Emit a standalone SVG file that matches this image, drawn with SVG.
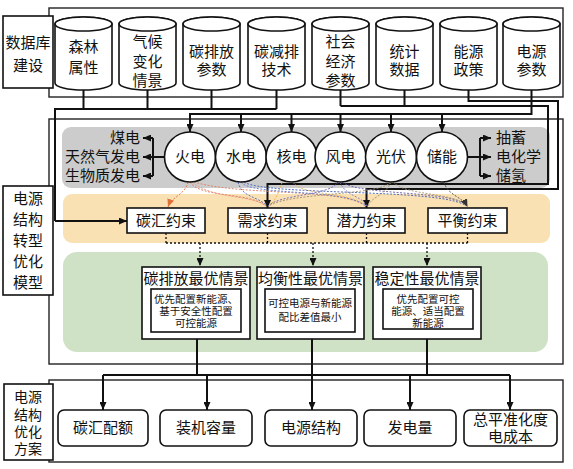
<svg xmlns="http://www.w3.org/2000/svg" width="573" height="469" viewBox="0 0 573 469">
<style>
text{font-family:"Liberation Serif","Noto Sans CJK SC",serif;fill:#111;text-anchor:middle;dominant-baseline:central}
.t15{font-size:15px}
.t14{font-size:14px}
.t11{font-size:10.5px}
.box{fill:#fff;stroke:#111;stroke-width:1.6}
.frame{fill:#fff;stroke:#222;stroke-width:1.4}
.cyl{fill:#fff;stroke:#111;stroke-width:1.6}
.ln{fill:none;stroke:#111;stroke-width:2}
.dot{fill:none;stroke:#111;stroke-width:1.3;stroke-dasharray:2 2}
.cv{fill:none;stroke-width:0.9;stroke-dasharray:2 1.5}
</style>
<defs>
<marker id="ah" viewBox="0 0 8 7" refX="8" refY="3.5" markerWidth="8" markerHeight="7" markerUnits="userSpaceOnUse" orient="auto"><path d="M0,0 L8,3.5 L0,7 z" fill="#111"/></marker>
<marker id="ahd" viewBox="0 0 8 7" refX="8" refY="3.5" markerWidth="8" markerHeight="7" markerUnits="userSpaceOnUse" orient="auto"><path d="M0,0 L8,3.5 L0,7 z" fill="#333"/></marker>
<marker id="aho" viewBox="0 0 8 7" refX="8" refY="3.5" markerWidth="8" markerHeight="7" markerUnits="userSpaceOnUse" orient="auto"><path d="M0,0 L8,3.5 L0,7 z" fill="#e0703a"/></marker>
</defs>

<!-- frames -->
<rect class="frame" x="49" y="8" width="514" height="89"/>
<rect class="frame" x="49" y="119" width="514" height="245"/>
<rect class="frame" x="49" y="380" width="514" height="82"/>

<!-- background bands -->
<rect x="62" y="127" width="488" height="61" rx="9" fill="#cccccc"/>
<rect x="63" y="194" width="487" height="49" rx="9" fill="#f9e1b4"/>
<rect x="63" y="252" width="485" height="100" rx="14" fill="#cfe2c6"/>

<!-- label boxes -->
<g id="lbl-db"><rect class="box" x="3" y="16" width="50" height="72"/>
<text class="t15" x="28" y="43">数据库</text><text class="t15" x="28" y="66">建设</text></g>
<g id="lbl-model"><rect class="box" x="3" y="186" width="50" height="109"/>
<text class="t15" x="28" y="199">电源</text><text class="t15" x="28" y="220">结构</text><text class="t15" x="28" y="241">转型</text><text class="t15" x="28" y="262">优化</text><text class="t15" x="28" y="283">模型</text></g>
<g id="lbl-plan"><rect class="box" x="4" y="384" width="49" height="76"/>
<text class="t14" x="28" y="397">电源</text><text class="t14" x="28" y="415">结构</text><text class="t14" x="28" y="432">优化</text><text class="t14" x="28" y="449">方案</text></g>

<!-- cylinders -->
<g id="db1"><path class="cyl" d="M55,24 A28.5,7 0 0 1 112,24 V83 A28.5,7 0 0 1 55,83 Z"/><ellipse class="cyl" cx="83.5" cy="24" rx="28.5" ry="7"/>
<text class="t15" x="83.5" y="47">森林</text><text class="t15" x="83.5" y="68">属性</text></g>
<g id="db2"><path class="cyl" d="M119,24 A28.5,7 0 0 1 176,24 V83 A28.5,7 0 0 1 119,83 Z"/><ellipse class="cyl" cx="147.5" cy="24" rx="28.5" ry="7"/>
<text class="t15" x="147.5" y="42">气候</text><text class="t15" x="147.5" y="62">变化</text><text class="t15" x="147.5" y="81">情景</text></g>
<g id="db3"><path class="cyl" d="M183,24 A28.5,7 0 0 1 240,24 V83 A28.5,7 0 0 1 183,83 Z"/><ellipse class="cyl" cx="211.5" cy="24" rx="28.5" ry="7"/>
<text class="t15" x="211.5" y="52">碳排放</text><text class="t15" x="211.5" y="70">参数</text></g>
<g id="db4"><path class="cyl" d="M248,24 A28.5,7 0 0 1 305,24 V83 A28.5,7 0 0 1 248,83 Z"/><ellipse class="cyl" cx="276.5" cy="24" rx="28.5" ry="7"/>
<text class="t15" x="276.5" y="52">碳减排</text><text class="t15" x="276.5" y="70">技术</text></g>
<g id="db5"><path class="cyl" d="M312,24 A28.5,7 0 0 1 369,24 V83 A28.5,7 0 0 1 312,83 Z"/><ellipse class="cyl" cx="340.5" cy="24" rx="28.5" ry="7"/>
<text class="t15" x="340.5" y="42">社会</text><text class="t15" x="340.5" y="62">经济</text><text class="t15" x="340.5" y="81">参数</text></g>
<g id="db6"><path class="cyl" d="M376,24 A28.5,7 0 0 1 433,24 V83 A28.5,7 0 0 1 376,83 Z"/><ellipse class="cyl" cx="404.5" cy="24" rx="28.5" ry="7"/>
<text class="t15" x="404.5" y="52">统计</text><text class="t15" x="404.5" y="70">数据</text></g>
<g id="db7"><path class="cyl" d="M440,24 A28.5,7 0 0 1 497,24 V83 A28.5,7 0 0 1 440,83 Z"/><ellipse class="cyl" cx="468.5" cy="24" rx="28.5" ry="7"/>
<text class="t15" x="468.5" y="52">能源</text><text class="t15" x="468.5" y="70">政策</text></g>
<g id="db8"><path class="cyl" d="M503,24 A28.5,7 0 0 1 560,24 V83 A28.5,7 0 0 1 503,83 Z"/><ellipse class="cyl" cx="531.5" cy="24" rx="28.5" ry="7"/>
<text class="t15" x="531.5" y="52">电源</text><text class="t15" x="531.5" y="70">参数</text></g>

<!-- connectors -->
<g id="connectors">
<path class="ln" d="M83.5,90 V109 M147.5,90 V109 M211.5,90 V109 M276.5,90 V109 M276.5,109 H55 V221" />
<path class="ln" d="M55,221 H127" marker-end="url(#ah)"/>
<path class="ln" d="M340.5,90 V106 M404.5,90 V106 M340.5,106 H548 V184 H267.5 V208" marker-end="url(#ah)"/>
<path class="ln" d="M468.5,90 V101 H558 V189 H366.5 V208" marker-end="url(#ah)"/>
<path class="ln" d="M531.5,90 V114 H190 V132" marker-end="url(#ah)"/>
<path class="ln" d="M241,114 V132" marker-end="url(#ah)"/>
<path class="ln" d="M291.5,114 V132" marker-end="url(#ah)"/>
<path class="ln" d="M340.5,114 V132" marker-end="url(#ah)"/>
<path class="ln" d="M391,114 V132" marker-end="url(#ah)"/>
<path class="ln" d="M442,114 V132" marker-end="url(#ah)"/>
<!-- left bracket -->
<path class="ln" d="M164,157 H153 M153,138 V176"/>
<path class="ln" d="M153,138 H143" marker-end="url(#ah)"/>
<path class="ln" d="M153,157 H143" marker-end="url(#ah)"/>
<path class="ln" d="M153,176 H143" marker-end="url(#ah)"/>
<!-- right bracket -->
<path class="ln" d="M468,157 H480 M480,138 V176"/>
<path class="ln" d="M480,138 H491" marker-end="url(#ah)"/>
<path class="ln" d="M480,157 H491" marker-end="url(#ah)"/>
<path class="ln" d="M480,176 H491" marker-end="url(#ah)"/>
<!-- colored dotted influence curves -->
<path class="cv" stroke="#e0703a" d="M188,182 C185,195 172,196 168,207" marker-end="url(#aho)"/>
<path class="cv" stroke="#e07050" d="M190,182 C200,198 250,192 266,206"/>
<path class="cv" stroke="#e89a8a" d="M192,182 C215,200 250,194 266,206"/>
<path class="cv" stroke="#d98060" d="M194,182 C240,196 345,188 365,206"/>
<path class="cv" stroke="#4a68c0" d="M238,182 C242,198 258,196 267,206"/>
<path class="cv" stroke="#5a78d0" d="M241,182 C250,196 345,188 366,206"/>
<path class="cv" stroke="#4060b0" d="M244,182 C265,196 445,188 466,206"/>
<path class="cv" stroke="#e8b040" d="M291,168 C282,170 282,196 269,206"/>
<path class="cv" stroke="#e0b060" d="M293,182 C300,196 355,192 366,206"/>
<path class="cv" stroke="#7060b0" d="M338,182 C330,196 280,194 268,206"/>
<path class="cv" stroke="#8070c0" d="M340,182 C345,196 362,196 367,206"/>
<path class="cv" stroke="#6a5aa8" d="M342,182 C360,196 455,190 467,206"/>
<path class="cv" stroke="#a09070" d="M391,182 C380,196 290,192 269,206"/>
<path class="cv" stroke="#9a8a68" d="M391,182 C385,196 372,196 368,206"/>
<path class="cv" stroke="#a89878" d="M393,182 C405,196 455,192 467,206"/>
<path class="cv" stroke="#444" d="M444,182 C448,196 462,196 467.5,207" marker-end="url(#ahd)"/>
<!-- dotted from constraints to scenarios -->
<path class="dot" d="M166,233 V243 M267.5,233 V243 M366.5,233 V243 M467.5,233 V243 M166,243 H467.5"/>
<path class="dot" d="M200,243 V266" marker-end="url(#ah)"/>
<path class="dot" d="M313,243 V266" marker-end="url(#ah)"/>
<path class="dot" d="M427,243 V266" marker-end="url(#ah)"/>
<!-- scenarios to results -->
<path class="ln" d="M197,339 V375 M427,339 V375 M103,375 H510"/>
<path class="ln" d="M103,375 V410" marker-end="url(#ah)"/>
<path class="ln" d="M207,375 V410" marker-end="url(#ah)"/>
<path class="ln" d="M312,339 V410" marker-end="url(#ah)"/>
<path class="ln" d="M410,375 V410" marker-end="url(#ah)"/>
<path class="ln" d="M510,375 V410" marker-end="url(#ah)"/>
</g>

<!-- side labels -->
<g id="gen-sub-left">
<text class="t15" x="140" y="138" style="text-anchor:end">煤电</text>
<text class="t15" x="140" y="157" style="text-anchor:end">天然气发电</text>
<text class="t15" x="140" y="176" style="text-anchor:end">生物质发电</text>
</g>
<g id="gen-sub-right">
<text class="t15" x="496" y="138" style="text-anchor:start">抽蓄</text>
<text class="t15" x="496" y="157" style="text-anchor:start">电化学</text>
<text class="t15" x="496" y="176" style="text-anchor:start">储氢</text>
</g>

<!-- generation ellipses -->
<g id="g-coal"><ellipse class="box" cx="190" cy="157" rx="25.5" ry="25"/><text class="t15" x="190" y="157">火电</text></g>
<g id="g-hydro"><ellipse class="box" cx="241" cy="157" rx="25.5" ry="25"/><text class="t15" x="241" y="157">水电</text></g>
<g id="g-nuclear"><ellipse class="box" cx="291.5" cy="157" rx="25.5" ry="25"/><text class="t15" x="291.5" y="157">核电</text></g>
<g id="g-wind"><ellipse class="box" cx="340.5" cy="157" rx="25.5" ry="25"/><text class="t15" x="340.5" y="157">风电</text></g>
<g id="g-pv"><ellipse class="box" cx="391" cy="157" rx="25.5" ry="25"/><text class="t15" x="391" y="157">光伏</text></g>
<g id="g-storage"><ellipse class="box" cx="442" cy="157" rx="25.5" ry="25"/><text class="t15" x="442" y="157">储能</text></g>

<!-- constraints -->
<g id="c-sink"><rect class="box" x="127" y="208" width="78" height="25"/><text class="t15" x="166" y="221">碳汇约束</text></g>
<g id="c-demand"><rect class="box" x="228" y="208" width="79" height="25"/><text class="t15" x="267.5" y="221">需求约束</text></g>
<g id="c-potential"><rect class="box" x="328" y="208" width="77" height="25"/><text class="t15" x="366.5" y="221">潜力约束</text></g>
<g id="c-balance"><rect class="box" x="428" y="208" width="79" height="25"/><text class="t15" x="467.5" y="221">平衡约束</text></g>

<!-- scenarios -->
<g id="s-carbon"><rect class="box" x="142" y="267" width="108" height="72"/><text class="t15" x="196" y="279">碳排放最优情景</text>
<rect class="box" x="151" y="289" width="90" height="43"/>
<text class="t11" x="196" y="299">优先配置新能源、</text><text class="t11" x="196" y="311">基于安全性配置</text><text class="t11" x="196" y="323">可控能源</text></g>
<g id="s-balance"><rect class="box" x="257" y="267" width="107" height="72"/><text class="t15" x="310.5" y="279">均衡性最优情景</text>
<rect class="box" x="265" y="289" width="90" height="43"/>
<text class="t11" x="310" y="303">可控电源与新能源</text><text class="t11" x="310" y="317">配比差值最小</text></g>
<g id="s-stable"><rect class="box" x="373" y="267" width="108" height="72"/><text class="t15" x="427" y="279">稳定性最优情景</text>
<rect class="box" x="383" y="289" width="90" height="40"/>
<text class="t11" x="428" y="299">优先配置可控</text><text class="t11" x="428" y="311">能源、适当配置</text><text class="t11" x="428" y="323">新能源</text></g>

<!-- results -->
<g id="r-sink"><rect class="box" x="58" y="410" width="90" height="36" rx="6"/><text class="t15" x="103" y="428">碳汇配额</text></g>
<g id="r-capacity"><rect class="box" x="160" y="410" width="92" height="36" rx="6"/><text class="t15" x="206" y="428">装机容量</text></g>
<g id="r-structure"><rect class="box" x="265" y="410" width="92" height="36" rx="6"/><text class="t15" x="311" y="428">电源结构</text></g>
<g id="r-gen"><rect class="box" x="364" y="410" width="92" height="36" rx="6"/><text class="t15" x="410" y="428">发电量</text></g>
<g id="r-lcoe"><rect class="box" x="464" y="410" width="93" height="36" rx="6"/><text class="t15" x="510.5" y="420">总平准化度</text><text class="t15" x="510.5" y="437">电成本</text></g>
</svg>
